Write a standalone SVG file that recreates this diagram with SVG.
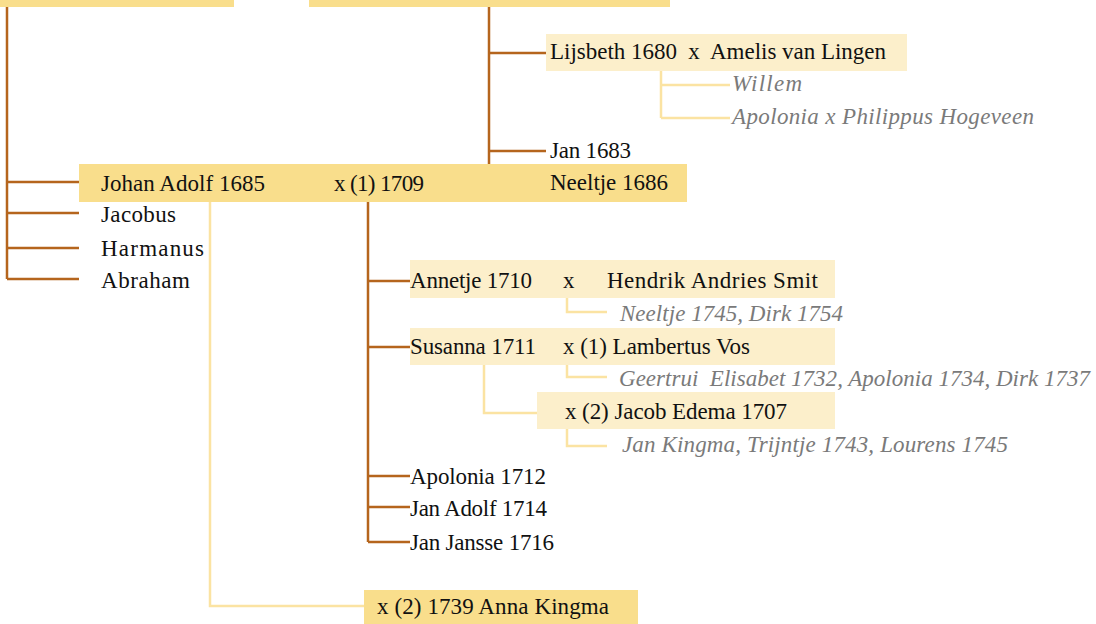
<svg xmlns="http://www.w3.org/2000/svg" width="1096" height="624" viewBox="0 0 1096 624" xml:space="preserve">
<style>
.dk{fill:#f9de8c}
.lt{fill:#fcefcb}
.t{font-family:"Liberation Serif","Times New Roman",serif;font-size:23px;fill:#111;white-space:pre}
.i{font-family:"Liberation Serif","Times New Roman",serif;font-size:23px;font-style:italic;fill:#7a7a7a;white-space:pre}
.br{stroke:#b5651d;stroke-width:2.5;fill:none}
.ly{stroke:#fbe3a2;stroke-width:2.5;fill:none}
</style>
<rect width="1096" height="624" fill="#fff"/>
<g id="connectors">
<path class="br" d="M7,7V279M7,182H79M7,213H79M7,248H79M7,279H79"/>
<path class="br" d="M489,7V181M489,53H546M489,151H546M489,181H546"/>
<path class="br" d="M368,202V542M368,281H410M368,347H410M368,476H410M368,507H410M368,542H410"/>
<path class="ly" d="M661,70V118M661,85H730M661,118H730"/>
<path class="ly" d="M210,202V606H364"/>
<path class="ly" d="M567,298V312H607"/>
<path class="ly" d="M567,365V377H607"/>
<path class="ly" d="M484,365V413H538"/>
<path class="ly" d="M567,429V446H607"/>
</g>
<g id="top-left"><rect class="dk" x="0" y="0" width="234" height="7"/></g>
<g id="top-right"><rect class="dk" x="309" y="0" width="361" height="7"/></g>
<g id="lijsbeth"><rect class="lt" x="546" y="34" width="361" height="37"/><text class="t" x="550" y="59" textLength="336">Lijsbeth 1680  x  Amelis van Lingen</text></g>
<g id="willem"><text class="i" x="732" y="91" textLength="70">Willem</text></g>
<g id="apolonia-h"><text class="i" x="732" y="124" textLength="302">Apolonia x Philippus Hogeveen</text></g>
<g id="jan1683"><text class="t" x="550" y="158" textLength="81">Jan 1683</text></g>
<g id="johan"><rect class="dk" x="79" y="164" width="608" height="38"/><text class="t" x="101" y="191" textLength="164">Johan Adolf 1685</text><text class="t" x="334" y="191" textLength="90">x (1) 1709</text></g>
<g id="neeltje1686"><text class="t" x="550" y="190" textLength="118">Neeltje 1686</text></g>
<g id="jacobus"><text class="t" x="101" y="222" textLength="75">Jacobus</text></g>
<g id="harmanus"><text class="t" x="101" y="256" textLength="103">Harmanus</text></g>
<g id="abraham"><text class="t" x="101" y="288" textLength="89">Abraham</text></g>
<g id="annetje"><rect class="lt" x="410" y="260" width="425" height="38"/><text class="t" x="410" y="288" textLength="122">Annetje 1710</text><text class="t" x="563" y="288">x</text><text class="t" x="607" y="288" textLength="211">Hendrik Andries Smit</text></g>
<g id="neeltje-dirk"><text class="i" x="620" y="321" textLength="223">Neeltje 1745, Dirk 1754</text></g>
<g id="susanna"><rect class="lt" x="410" y="328" width="425" height="37"/><text class="t" x="410" y="354" textLength="126">Susanna 1711</text><text class="t" x="563" y="354" textLength="187">x (1) Lambertus Vos</text></g>
<g id="geertrui"><text class="i" x="619" y="386" textLength="471">Geertrui  Elisabet 1732, Apolonia 1734, Dirk 1737</text></g>
<g id="edema"><rect class="lt" x="537" y="392" width="298" height="37"/><text class="t" x="565" y="419" textLength="222">x (2) Jacob Edema 1707</text></g>
<g id="jan-kingma"><text class="i" x="622" y="452" textLength="386">Jan Kingma, Trijntje 1743, Lourens 1745</text></g>
<g id="apolonia1712"><text class="t" x="410" y="484" textLength="136">Apolonia 1712</text></g>
<g id="janadolf1714"><text class="t" x="410" y="516" textLength="137">Jan Adolf 1714</text></g>
<g id="janjansse"><text class="t" x="410" y="550" textLength="144">Jan Jansse 1716</text></g>
<g id="anna"><rect class="dk" x="364" y="590" width="274" height="34"/><text class="t" x="377" y="614" textLength="232">x (2) 1739 Anna Kingma</text></g>
</svg>
